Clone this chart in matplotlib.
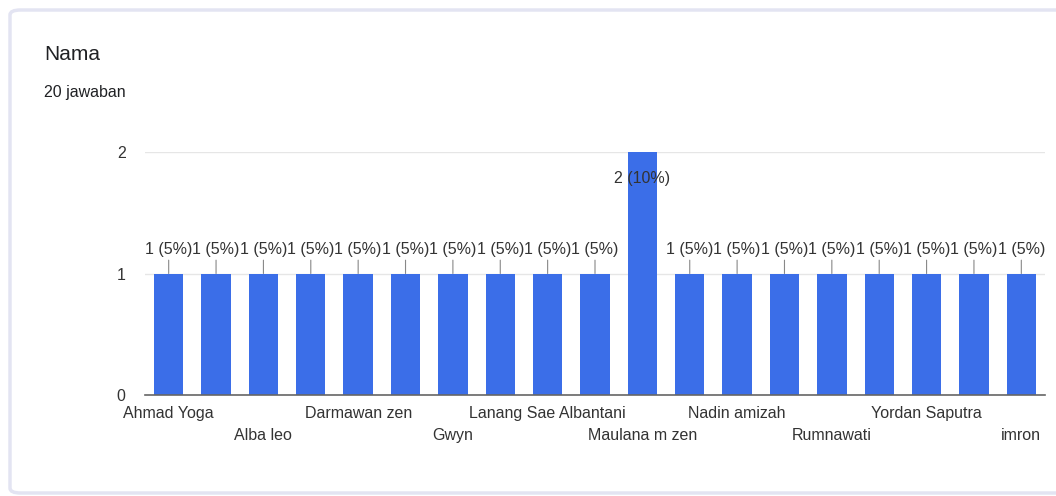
import numpy as np
import matplotlib.pyplot as plt
from matplotlib.patches import FancyBboxPatch

plt.rcParams['font.family'] = ['Liberation Sans', 'DejaVu Sans']

# Data (hidden labels left blank, they are not readable in the chart)
names = ["Ahmad Yoga", "", "Alba leo", "", "Darmawan zen", "", "Gwyn", "",
         "Lanang Sae Albantani", "", "Maulana m zen", "", "Nadin amizah", "",
         "Rumnawati", "", "Yordan Saputra", "", "imron"]
counts = [1, 1, 1, 1, 1, 1, 1, 1, 1, 1, 2, 1, 1, 1, 1, 1, 1, 1, 1]
total = 20
yticks = [0, 1, 2]

blue = "#3b6ee8"
txt = "#333333"

fig = plt.figure(figsize=(10.56, 4.96), dpi=100)

# card background
card = FancyBboxPatch((10 / 1056, 3 / 496), 1.2, 483 / 496,
                      boxstyle="round,pad=0,rounding_size=0.01",
                      transform=fig.transFigure, facecolor="white",
                      edgecolor="#e3e4f2", linewidth=2.5, zorder=-10)
fig.patches.append(card)

fig.text(44 / 1056, 1 - 55 / 496, "Nama", fontsize=15, color="#202124", va="center")
fig.text(44 / 1056, 1 - 93 / 496, "20 jawaban", fontsize=11.5, color="#202124", va="center")

ax = fig.add_axes([145 / 1056, 1 - 395 / 496, 900 / 1056, 243 / 496])
ax.set_facecolor("none")
x = np.arange(len(counts))
ax.bar(x, counts, width=0.62, color=blue, zorder=3)

ax.set_xlim(-0.5, len(counts) - 0.5)
ax.set_ylim(0, 2)
ax.set_yticks(yticks)
ax.set_yticklabels([str(v) for v in yticks], fontsize=11.5, color=txt)
ax.tick_params(axis="y", length=0, pad=14)
ax.tick_params(axis="x", length=0)
ax.set_xticks([])
ax.grid(axis="y", color="#e6e6e6", linewidth=1, zorder=0)
for s in ["top", "right", "left"]:
    ax.spines[s].set_visible(False)
ax.spines["bottom"].set_color("#666666")
ax.spines["bottom"].set_linewidth(1.2)
ax.spines["bottom"].set_zorder(4)

# category labels, alternating rows
for i, name in enumerate(names):
    if not name:
        continue
    row = (i // 2) % 2
    ax.annotate(name, (i, 0), xytext=(0, -13 - 16.5 * row), textcoords="offset points",
                ha="center", va="center", fontsize=11.5, color=txt,
                annotation_clip=False)

# value labels
for i, c in enumerate(counts):
    lab = f"{c} ({c / total * 100:.0f}%)"
    if c == max(counts):
        ax.annotate(lab, (i, c), xytext=(0, -19), textcoords="offset points",
                    ha="center", va="center", fontsize=11.5, color=txt, zorder=5)
    else:
        ax.annotate(lab, (i, c), xytext=(0, 17), textcoords="offset points",
                    ha="center", va="center", fontsize=11.5, color=txt, zorder=5,
                    arrowprops=dict(arrowstyle="-", color="#888888", lw=0.8,
                                    shrinkA=0, shrinkB=0))

fig.savefig("out.png", dpi=100)
